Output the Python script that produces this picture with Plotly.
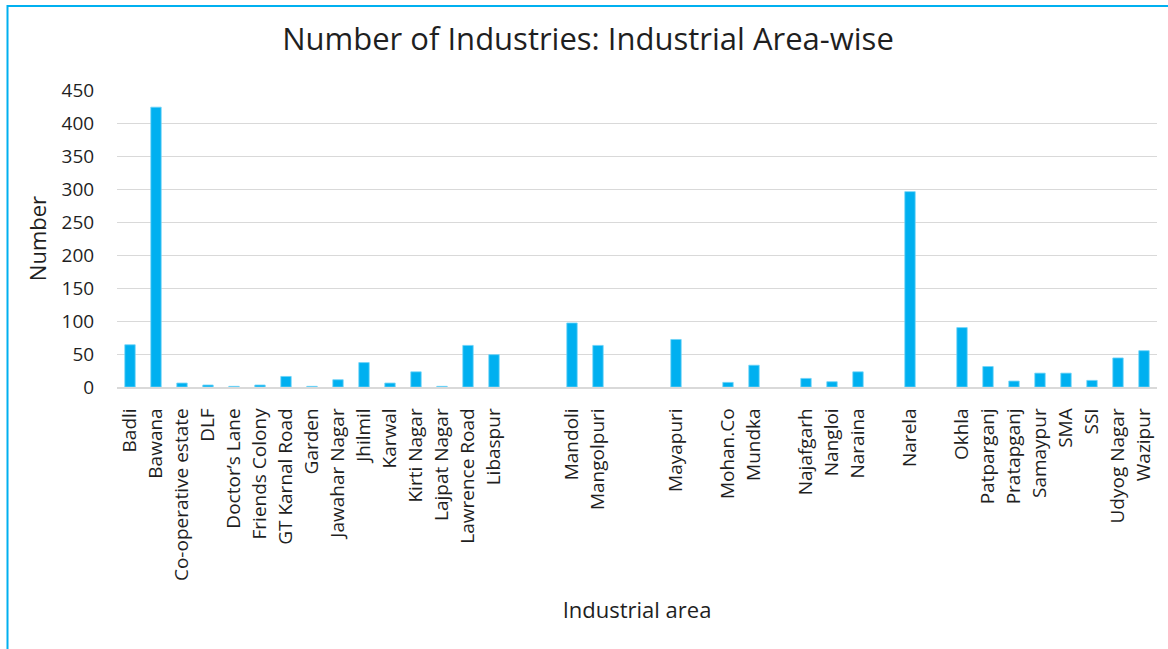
import plotly.graph_objects as go

categories = ["Badli", "Bawana", "Co-operative estate", "DLF", "Doctor’s Lane",
              "Friends Colony", "GT Karnal Road", "Garden", "Jawahar Nagar", "Jhilmil",
              "Karwal", "Kirti Nagar", "Lajpat Nagar", "Lawrence Road", "Libaspur",
              "", "", "Mandoli", "Mangolpuri", "", "", "Mayapuri", "", "Mohan.Co", "Mundka",
              "", "Najafgarh", "Nangloi", "Naraina", "", "Narela", "", "Okhla", "Patparganj",
              "Pratapganj", "Samaypur", "SMA", "SSI", "Udyog Nagar", "Wazipur"]
values = [64, 424, 6, 3, 1,
          3, 16, 1, 11, 37,
          6, 23, 1, 63, 49,
          None, None, 97, 63, None, None, 72, None, 7, 33,
          None, 13, 8, 23, None, 296, None, 90, 31,
          9, 21, 21, 10, 44, 55]
y_ticks = [0, 50, 100, 150, 200, 250, 300, 350, 400, 450]

W, H = 1168, 649
ml, mr, mt, mb = 117, 11, 90, 262
pw, ph = W - ml - mr, H - mt - mb

positions = list(range(len(categories)))

fig = go.Figure(go.Bar(
    x=positions, y=values,
    marker=dict(color="#00B0F0", line=dict(color="#6fd3f7", width=0.8)),
    width=0.4,
))

font_family = "Open Sans, Segoe UI, sans-serif"
text_color = "#1f1f1f"

fig.update_layout(
    width=W, height=H,
    margin=dict(l=ml, r=mr, t=mt, b=mb, autoexpand=False),
    paper_bgcolor="white", plot_bgcolor="white",
    font=dict(family=font_family, color=text_color, size=19),
    title=dict(text="Number of Industries: Industrial Area-wise",
               x=588 / W, xref="container", xanchor="center",
               y=1 - 39 / H, yref="container", yanchor="middle",
               font=dict(size=31, color=text_color)),
    showlegend=False,
    bargap=0.6,
)
fig.update_xaxes(
    range=[-0.5, len(categories) - 0.5],
    tickmode="array", tickvals=positions, ticktext=categories,
    tickangle=-90, ticks="outside", ticklen=12, tickcolor="rgba(0,0,0,0)",
    showgrid=False, zeroline=False,
    showline=True, linecolor="#d9d9d9", linewidth=1.5,
    tickfont=dict(size=19),
    title=dict(text="Industrial area", standoff=23, font=dict(size=22)),
    automargin=False,
)
fig.update_yaxes(
    range=[0, 450], tickmode="array", tickvals=y_ticks,
    showgrid=True, gridcolor="#d9d9d9", gridwidth=1.3,
    zeroline=False, showline=False,
    ticks="outside", ticklen=18, tickcolor="rgba(0,0,0,0)",
    tickfont=dict(size=19),
    title=dict(text="Number", standoff=8, font=dict(size=22)),
    automargin=False,
)

# blue frame around the chart (extends beyond right/bottom edges)
fig.add_shape(type="rect", xref="paper", yref="paper",
              x0=(7.5 - ml) / pw, x1=(W + 20 - ml) / pw,
              y0=(mt + ph - (H + 20)) / ph, y1=(mt + ph - 6) / ph,
              line=dict(color="#00B0F0", width=2), fillcolor="rgba(0,0,0,0)",
              layer="above")

fig.write_html("out.html")
